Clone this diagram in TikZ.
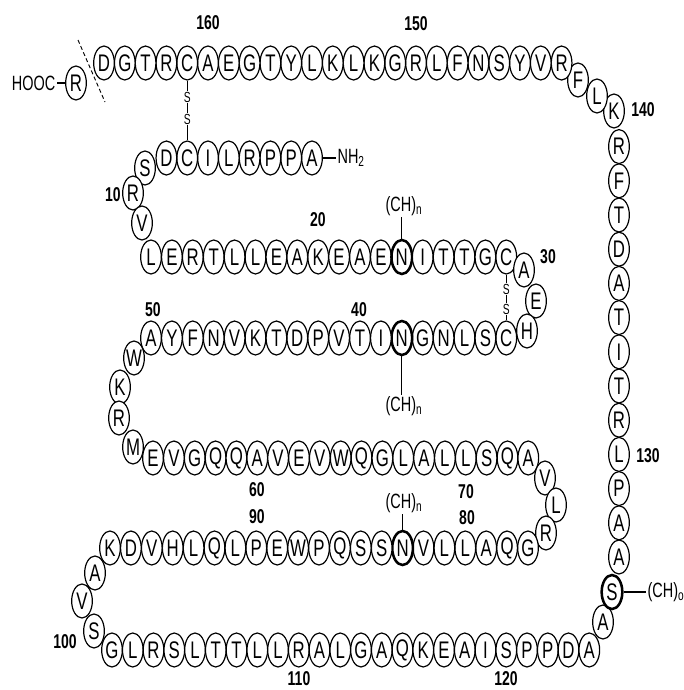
\documentclass[tikz,border=0pt]{standalone}
\usepackage{fontspec}
\newfontfamily\aafont[FakeStretch=0.7]{Liberation Sans}
\usetikzlibrary{shapes.geometric}

\begin{document}
\begin{tikzpicture}[x=0.75pt,y=-0.75pt,
  aa/.style={ellipse,draw,fill=white,line width=0.9pt,minimum width=15.5pt,
    minimum height=25.5pt,inner sep=-3pt,font=\aafont\fontsize{18}{18}\selectfont},
  aabold/.style={aa,line width=1.9pt},
  num/.style={font=\aafont\bfseries\fontsize{15}{15}\selectfont},
  chain/.style={inner sep=1pt,font=\aafont\fontsize{15.5}{15.5}\selectfont},
  sulf/.style={fill=white,inner sep=0.4pt,font=\aafont\fontsize{11}{11}\selectfont}]

  \useasboundingbox (0,0) rectangle (684,690);

  % row 1 (N terminus)
  \node[aa] (r1) at (312.0,158) {A};
  \node[aa] (r2) at (291.2,158) {P};
  \node[aa] (r3) at (270.4,158) {P};
  \node[aa] (r4) at (249.6,158) {R};
  \node[aa] (r5) at (228.8,158) {L};
  \node[aa] (r6) at (208.0,158) {I};
  \node[aa] (r7) at (187.2,158) {C};
  \node[aa] (r8) at (166.4,158) {D};
  \node[aa] (r9) at (145,168) {S};
  \node[aa] (r10) at (133,193) {R};
  \node[aa] (r11) at (142,223) {V};

  % row 2
  \node[aa] (r12) at (151.0,257) {L};
  \node[aa] (r13) at (171.9,257) {E};
  \node[aa] (r14) at (192.8,257) {R};
  \node[aa] (r15) at (213.7,257) {T};
  \node[aa] (r16) at (234.6,257) {L};
  \node[aa] (r17) at (255.5,257) {L};
  \node[aa] (r18) at (276.4,257) {E};
  \node[aa] (r19) at (297.3,257) {A};
  \node[aa] (r20) at (318.2,257) {K};
  \node[aa] (r21) at (339.1,257) {E};
  \node[aa] (r22) at (360.0,257) {A};
  \node[aa] (r23) at (380.9,257) {E};
  \node[aabold] (r24) at (401.8,257) {N};
  \node[aa] (r25) at (422.7,257) {I};
  \node[aa] (r26) at (443.6,257) {T};
  \node[aa] (r27) at (464.5,257) {T};
  \node[aa] (r28) at (485.4,257) {G};
  \node[aa] (r29) at (506.3,257) {C};
  \node[aa] (r30) at (524,270) {A};
  \node[aa] (r31) at (536,301) {E};
  \node[aa] (r32) at (527,331) {H};

  % row 3
  \node[aa] (r33) at (506.3,338) {C};
  \node[aa] (r34) at (485.4,338) {S};
  \node[aa] (r35) at (464.5,338) {L};
  \node[aa] (r36) at (443.6,338) {N};
  \node[aa] (r37) at (422.7,338) {G};
  \node[aabold] (r38) at (401.8,338) {N};
  \node[aa] (r39) at (380.9,338) {I};
  \node[aa] (r40) at (360.0,338) {T};
  \node[aa] (r41) at (339.1,338) {V};
  \node[aa] (r42) at (318.2,338) {P};
  \node[aa] (r43) at (297.3,338) {D};
  \node[aa] (r44) at (276.4,338) {T};
  \node[aa] (r45) at (255.5,338) {K};
  \node[aa] (r46) at (234.6,338) {V};
  \node[aa] (r47) at (213.7,338) {N};
  \node[aa] (r48) at (192.8,338) {F};
  \node[aa] (r49) at (171.9,338) {Y};
  \node[aa] (r50) at (151.0,338) {A};
  \node[aa] (r51) at (134,358) {W};
  \node[aa] (r52) at (120,387) {K};
  \node[aa] (r53) at (119,418) {R};
  \node[aa] (r54) at (133,447) {M};

  % row 4
  \node[aa] (r55) at (153.0,458) {E};
  \node[aa] (r56) at (173.9,458) {V};
  \node[aa] (r57) at (194.7,458) {G};
  \node[aa] (r58) at (215.6,458) {Q};
  \node[aa] (r59) at (236.4,458) {Q};
  \node[aa] (r60) at (257.3,458) {A};
  \node[aa] (r61) at (278.1,458) {V};
  \node[aa] (r62) at (299.0,458) {E};
  \node[aa] (r63) at (319.8,458) {V};
  \node[aa] (r64) at (340.7,458) {W};
  \node[aa] (r65) at (361.5,458) {Q};
  \node[aa] (r66) at (382.4,458) {G};
  \node[aa] (r67) at (403.2,458) {L};
  \node[aa] (r68) at (424.1,458) {A};
  \node[aa] (r69) at (444.9,458) {L};
  \node[aa] (r70) at (465.8,458) {L};
  \node[aa] (r71) at (486.6,458) {S};
  \node[aa] (r72) at (507.5,458) {Q};
  \node[aa] (r73) at (528.3,458) {A};
  \node[aa] (r74) at (545,478) {V};
  \node[aa] (r75) at (556,505) {L};
  \node[aa] (r76) at (546,533) {R};

  % row 5
  \node[aa] (r77) at (528.0,548) {G};
  \node[aa] (r78) at (507.1,548) {Q};
  \node[aa] (r79) at (486.2,548) {A};
  \node[aa] (r80) at (465.3,548) {L};
  \node[aa] (r81) at (444.4,548) {L};
  \node[aa] (r82) at (423.5,548) {V};
  \node[aabold] (r83) at (402.6,548) {N};
  \node[aa] (r84) at (381.7,548) {S};
  \node[aa] (r85) at (360.8,548) {S};
  \node[aa] (r86) at (339.9,548) {Q};
  \node[aa] (r87) at (319.0,548) {P};
  \node[aa] (r88) at (298.1,548) {W};
  \node[aa] (r89) at (277.2,548) {E};
  \node[aa] (r90) at (256.3,548) {P};
  \node[aa] (r91) at (235.4,548) {L};
  \node[aa] (r92) at (214.5,548) {Q};
  \node[aa] (r93) at (193.6,548) {L};
  \node[aa] (r94) at (172.7,548) {H};
  \node[aa] (r95) at (151.8,548) {V};
  \node[aa] (r96) at (130.9,548) {D};
  \node[aa] (r97) at (110.0,548) {K};
  \node[aa] (r98) at (95,573) {A};
  \node[aa] (r99) at (82,601) {V};
  \node[aa] (r100) at (94,631) {S};

  % row 6
  \node[aa] (r101) at (112.0,650) {G};
  \node[aa] (r102) at (132.8,650) {L};
  \node[aa] (r103) at (153.5,650) {R};
  \node[aa] (r104) at (174.3,650) {S};
  \node[aa] (r105) at (195.0,650) {L};
  \node[aa] (r106) at (215.8,650) {T};
  \node[aa] (r107) at (236.5,650) {T};
  \node[aa] (r108) at (257.3,650) {L};
  \node[aa] (r109) at (278.0,650) {L};
  \node[aa] (r110) at (298.8,650) {R};
  \node[aa] (r111) at (319.5,650) {A};
  \node[aa] (r112) at (340.3,650) {L};
  \node[aa] (r113) at (361.0,650) {G};
  \node[aa] (r114) at (381.8,650) {A};
  \node[aa] (r115) at (402.5,650) {Q};
  \node[aa] (r116) at (423.3,650) {K};
  \node[aa] (r117) at (444.0,650) {E};
  \node[aa] (r118) at (464.8,650) {A};
  \node[aa] (r119) at (485.5,650) {I};
  \node[aa] (r120) at (506.3,650) {S};
  \node[aa] (r121) at (527.0,650) {P};
  \node[aa] (r122) at (547.8,650) {P};
  \node[aa] (r123) at (568.5,650) {D};
  \node[aa] (r124) at (589.3,650) {A};
  \node[aa] (r125) at (603,622) {A};
  \node[aabold] (r126) at (612,592) {S};

  % column on the right
  \node[aa] (r127) at (619,557.0) {A};
  \node[aa] (r128) at (619,522.8) {A};
  \node[aa] (r129) at (619,488.6) {P};
  \node[aa] (r130) at (619,454.4) {L};
  \node[aa] (r131) at (619,420.2) {R};
  \node[aa] (r132) at (619,386.0) {T};
  \node[aa] (r133) at (619,351.8) {I};
  \node[aa] (r134) at (619,317.6) {T};
  \node[aa] (r135) at (619,283.4) {A};
  \node[aa] (r136) at (619,249.2) {D};
  \node[aa] (r137) at (619,215.0) {T};
  \node[aa] (r138) at (619,180.8) {F};
  \node[aa] (r139) at (619,146.6) {R};
  \node[aa] (r140) at (614,111) {K};
  \node[aa] (r141) at (597,96) {L};
  \node[aa] (r142) at (578,80) {F};

  % top row (C terminus)
  \node[aa] (r143) at (561.6,63) {R};
  \node[aa] (r144) at (540.8,63) {V};
  \node[aa] (r145) at (520.0,63) {Y};
  \node[aa] (r146) at (499.2,63) {S};
  \node[aa] (r147) at (478.4,63) {N};
  \node[aa] (r148) at (457.6,63) {F};
  \node[aa] (r149) at (436.8,63) {L};
  \node[aa] (r150) at (416.0,63) {R};
  \node[aa] (r151) at (395.2,63) {G};
  \node[aa] (r152) at (374.4,63) {K};
  \node[aa] (r153) at (353.6,63) {L};
  \node[aa] (r154) at (332.8,63) {K};
  \node[aa] (r155) at (312.0,63) {L};
  \node[aa] (r156) at (291.2,63) {Y};
  \node[aa] (r157) at (270.4,63) {T};
  \node[aa] (r158) at (249.6,63) {G};
  \node[aa] (r159) at (228.8,63) {E};
  \node[aa] (r160) at (208.0,63) {A};
  \node[aa] (r161) at (187.2,63) {C};
  \node[aa] (r162) at (166.4,63) {R};
  \node[aa] (r163) at (145.6,63) {T};
  \node[aa] (r164) at (124.8,63) {G};
  \node[aa] (r165) at (104.0,63) {D};
  \node[aa] (r166) at (76,83) {R};

  % ends, bridges and side chains
  \node[chain,anchor=east] (hooc) at (57,83) {HOOC};
  \draw[line width=0.9pt] (hooc) -- (r166);
  \draw[line width=0.7pt,dash pattern=on 3pt off 2pt] (78,40) -- (105,102);
  \node[chain,anchor=west] (nh2) at (336,158) {NH\textsubscript{2}};
  \draw[line width=0.9pt] (r1.east) -- (r1.east -| nh2.west);

  \draw[line width=0.6pt] (r161.south) -- (r7.north);
  \node[sulf] (s1) at (187.2,97) {S};
  \node[sulf] (s2) at (187.2,119) {S};
  \draw[line width=0.6pt] (r29.south) -- (r33.north);
  \node[sulf] (s3) at (506.3,289) {S};
  \node[sulf] (s4) at (506.3,309) {S};

  \node[chain] (ch24) at (404,206) {(CH)\textsubscript{n}};
  \draw[line width=0.9pt] (r24.north) -- (r24.north |- ch24.south);
  \node[chain] (ch38) at (404,406) {(CH)\textsubscript{n}};
  \draw[line width=0.9pt] (r38.south) -- (r38.south |- ch38.north);
  \node[chain] (ch83) at (404,503) {(CH)\textsubscript{n}};
  \draw[line width=0.9pt] (r83.north) -- (r83.north |- ch83.south);
  \node[chain,anchor=west] (ch126) at (646,592) {(CH)\textsubscript{o}};
  \draw[line width=0.9pt] (r126.east) -- (r126.east -| ch126.west);

  % numbering
  \node[num] (n10) at (113,195) {10};
  \node[num] (n20) at (318,220) {20};
  \node[num] (n30) at (548,257) {30};
  \node[num] (n40) at (359,310) {40};
  \node[num] (n50) at (153,310) {50};
  \node[num] (n60) at (257,490) {60};
  \node[num] (n70) at (466,492) {70};
  \node[num] (n80) at (467,518) {80};
  \node[num] (n90) at (257,517) {90};
  \node[num] (n100) at (65,642) {100};
  \node[num] (n110) at (299,679) {110};
  \node[num] (n120) at (506,679) {120};
  \node[num] (n130) at (648,456) {130};
  \node[num] (n140) at (643,110) {140};
  \node[num] (n150) at (416,24) {150};
  \node[num] (n160) at (208,23) {160};
\end{tikzpicture}
\end{document}
